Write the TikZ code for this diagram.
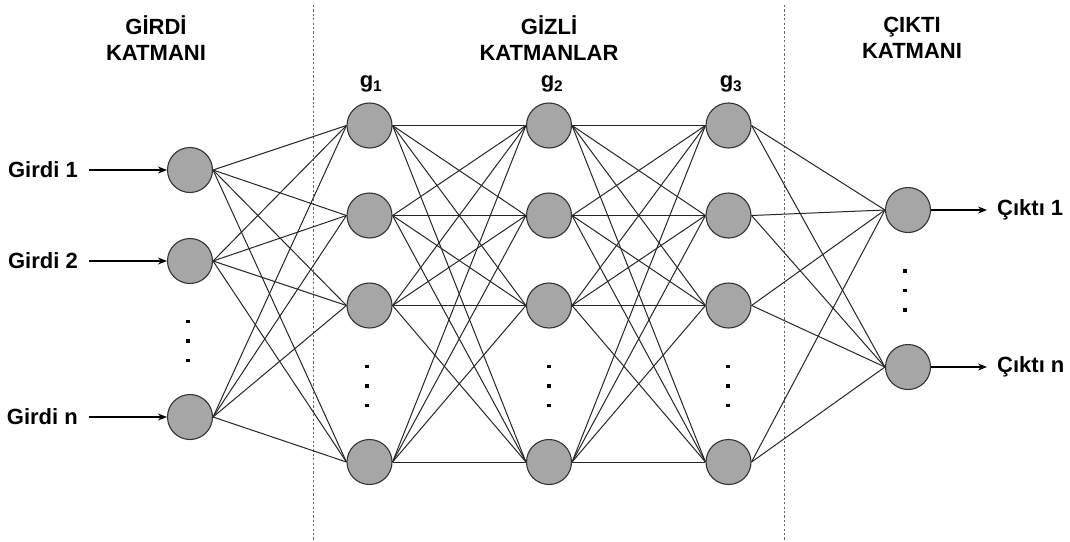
\documentclass[tikz,border=0pt]{standalone}
\usepackage{fontspec}
\setmainfont{Liberation Sans}
\usetikzlibrary{arrows.meta}
\begin{document}
\begin{tikzpicture}[x=1pt,y=-1pt,
  neuron/.style={circle,draw=black!80,line width=1.1pt,fill=black!35,minimum size=45pt,inner sep=0pt},
  conn/.style={draw=black!85,line width=1pt},
  io/.style={draw=black,line width=1.2pt,-{Stealth[length=9pt,width=7pt]}},
  lbl/.style={font=\fontsize{22}{26}\selectfont\bfseries,inner sep=0pt},
  head/.style={font=\fontsize{22}{26}\selectfont\bfseries,align=center,inner sep=0pt},
  sep/.style={draw=black!60,line width=1pt,dash pattern=on 2.2pt off 2.2pt},
  dot/.style={fill=black}]
\useasboundingbox (0,0) rectangle (1070,541);

% layer separators
\draw[sep] (313.5,5) -- (313.5,541);
\draw[sep] (784.5,5) -- (784.5,541);

% layer titles
\node[head] (t1) at (156,38) {GİRDİ\\KATMANI};
\node[head] (t2) at (549,38) {GİZLİ\\KATMANLAR};
\node[head] (t3) at (912,38) {ÇIKTI\\KATMANI};

% input layer
\node[neuron] (i1) at (190,170) {};
\node[neuron] (i2) at (190,261) {};
\node[neuron] (i3) at (190,417) {};

% hidden layers
\foreach \c/\x in {a/369.5,b/549,c/728.5}{
  \node[neuron] (\c1) at (\x,125.5) {};
  \node[neuron] (\c2) at (\x,215.5) {};
  \node[neuron] (\c3) at (\x,305.5) {};
  \node[neuron] (\c4) at (\x,462) {};
}

% output layer
\node[neuron] (o1) at (908,210) {};
\node[neuron] (o2) at (908,367) {};

% hidden layer names
\node[lbl] (ga) at (371,84) {g\textsubscript{1}};
\node[lbl] (gb) at (552,84) {g\textsubscript{2}};
\node[lbl] (gc) at (731,84) {g\textsubscript{3}};

% connections
\foreach \s in {1,2,3}{\foreach \t in {1,2,3,4}{\draw[conn] (i\s.east) -- (a\t.west);}}
\foreach \s in {1,2,3,4}{\foreach \t in {1,2,3,4}{
  \draw[conn] (a\s.east) -- (b\t.west);
  \draw[conn] (b\s.east) -- (c\t.west);}}
\foreach \s in {1,2,3,4}{\foreach \t in {1,2}{\draw[conn] (c\s.east) -- (o\t.west);}}

% input labels and arrows
\node[lbl,anchor=east] (x1) at (78,170) {Girdi 1};
\node[lbl,anchor=east] (x2) at (78,261) {Girdi 2};
\node[lbl,anchor=east] (x3) at (78,417) {Girdi n};
\foreach \k in {1,2,3}{\draw[io] ([xshift=11pt]x\k.east) -- (i\k.west);}

% output labels and arrows
\node[lbl,anchor=west] (y1) at (997,210) {Çıktı 1};
\node[lbl,anchor=west] (y2) at (997,367) {Çıktı n};
\foreach \k in {1,2}{\draw[io] (o\k.east) -- ([xshift=-10pt]y\k.west);}

% ellipsis dots
\foreach \x/\y in {188/321.5,367/366.5,549/366.5,728/366.5,905/271}{
  \foreach \d in {0,19.5,39}{\fill[dot] (\x-1.6,\y+\d-1.6) rectangle ++(3.2,3.2);}}
\end{tikzpicture}
\end{document}
